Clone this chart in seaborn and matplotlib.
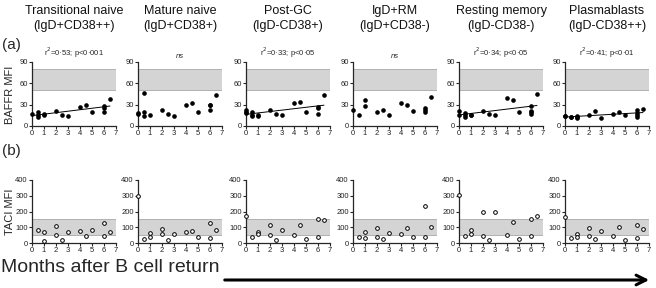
import numpy as np
import pandas as pd
import matplotlib
matplotlib.use('Agg')
import matplotlib.pyplot as plt
import seaborn as sns

sns.set_style('ticks')
plt.rcParams['font.family'] = ['Liberation Sans', 'DejaVu Sans']

# Panel titles and stats text
titles = ['Transitional naive\n(IgD+CD38++)', 'Mature naive\n(IgD+CD38+)', 'Post-GC\n(IgD-CD38+)',
          'IgD+RM\n(IgD+CD38-)', 'Resting memory\n(IgD-CD38-)', 'Plasmablasts\n(IgD-CD38++)']
stats = ['r$^2$=0·53; p<0·001', 'ns', 'r$^2$=0·33; p<0·05', 'ns', 'r$^2$=0·34; p<0·05', 'r$^2$=0·41; p<0·01']
significant = [True, False, True, False, True, True]

# BAFFR MFI (row a)
baffr_x = [
    [0, 0.5, 0.5, 0.5, 1, 1, 2, 2.5, 3, 4, 4.5, 5, 6, 6, 6, 6.5],
    [0, 0, 0.5, 0.5, 0.5, 1, 2, 2.5, 3, 4, 4.5, 5, 6, 6, 6, 6.5],
    [0, 0, 0, 0.5, 0.5, 0.5, 1, 1, 2, 2.5, 3, 4, 4.5, 5, 6, 6, 6, 6.5],
    [0, 0.5, 1, 1, 2, 2.5, 3, 4, 4.5, 5, 6, 6, 6, 6.5],
    [0, 0, 0.5, 0.5, 0.5, 1, 1, 2, 2.5, 3, 4, 4.5, 5, 6, 6, 6, 6, 6.5],
    [0, 0, 0.5, 0.5, 1, 1, 1, 2, 2.5, 3, 4, 4.5, 5, 6, 6, 6, 6, 6.5],
]
baffr_y = [
    [17, 13, 16, 19, 16, 17, 21, 16, 14, 27, 29, 19, 20, 25, 28, 38],
    [18, 17, 47, 20, 14, 16, 22, 17, 14, 29, 33, 20, 22, 29, 30, 44],
    [22, 20, 18, 19, 16, 14, 16, 14, 22, 17, 15, 33, 34, 19, 17, 25, 27, 44],
    [22, 15, 37, 28, 19, 22, 15, 33, 30, 21, 20, 23, 25, 41],
    [21, 16, 18, 15, 13, 16, 15, 21, 17, 15, 40, 36, 20, 17, 19, 21, 28, 45],
    [14, 14, 13, 12, 14, 12, 11, 15, 21, 11, 17, 19, 16, 13, 15, 18, 22, 24],
]

# TACI MFI (row b)
taci_x = [
    [0.5, 1, 1, 2, 2, 2.5, 3, 4, 4.5, 5, 6, 6, 6.5],
    [0, 0.5, 1, 1, 2, 2, 2.5, 3, 4, 4.5, 5, 6, 6, 6.5],
    [0, 0.5, 1, 1, 2, 2, 2.5, 3, 4, 4.5, 5, 6, 6, 6.5],
    [0.5, 1, 1, 2, 2, 2.5, 3, 4, 4.5, 5, 6, 6, 6.5],
    [0, 0.5, 1, 1, 2, 2, 2.5, 3, 4, 4.5, 5, 6, 6, 6.5],
    [0, 0.5, 1, 1, 2, 2, 2.5, 3, 4, 4.5, 5, 6, 6, 6.5],
]
taci_y = [
    [80, 70, 10, 110, 50, 20, 70, 75, 45, 80, 130, 45, 70],
    [300, 25, 65, 35, 90, 55, 20, 60, 70, 75, 40, 130, 30, 85],
    [170, 35, 70, 55, 115, 50, 20, 85, 50, 115, 25, 155, 40, 145],
    [35, 70, 30, 95, 40, 25, 65, 55, 95, 35, 235, 40, 100],
    [305, 45, 80, 55, 195, 45, 20, 195, 50, 135, 25, 155, 45, 170],
    [165, 30, 55, 40, 95, 45, 25, 75, 45, 100, 20, 115, 30, 90],
]

# normal ranges (grey bands)
baffr_band = (50, 80)
taci_band = (50, 150)

fig = plt.figure(figsize=(6.56, 2.88), dpi=100)
W, H = 656, 288
lefts = [32, 138, 246, 353, 459, 565]


def make_ax(left, top, bottom, width=84):
    return fig.add_axes([left / W, 1 - bottom / H, width / W, (bottom - top) / H])


def style(ax, ymax, yticks):
    ax.set_xlim(0, 7)
    ax.set_ylim(0, ymax)
    ax.set_xticks(range(8))
    ax.set_yticks(yticks)
    ax.tick_params(labelsize=5.5, length=2, width=0.8, pad=1, labelcolor='#222222')
    for s in ['left', 'bottom']:
        ax.spines[s].set_linewidth(0.9)
    sns.despine(ax=ax)
    ax.set_xlabel('')
    ax.set_ylabel('')


for i in range(6):
    left = lefts[i]
    # row a
    ax = make_ax(left, 62, 126)
    ax.axhspan(*baffr_band, facecolor='#d4d4d4', edgecolor='#9a9a9a', lw=0.5, zorder=0)
    df = pd.DataFrame({'month': baffr_x[i], 'mfi': baffr_y[i]})
    sns.scatterplot(data=df, x='month', y='mfi', ax=ax, color='black', s=11, linewidth=0,
                    clip_on=False, zorder=3)
    if significant[i]:
        sns.regplot(data=df, x='month', y='mfi', ax=ax, scatter=False, ci=None,
                    line_kws={'color': 'black', 'lw': 0.7})
    style(ax, 90, [0, 30, 60, 90])
    ax.text(3.5, 93, stats[i], ha='center', va='bottom', fontsize=5.5,
            style='italic' if stats[i] == 'ns' else 'normal')

    # row b
    ax = make_ax(left, 180, 243)
    ax.axhspan(*taci_band, facecolor='#d4d4d4', edgecolor='#9a9a9a', lw=0.5, zorder=0)
    df = pd.DataFrame({'month': taci_x[i], 'mfi': taci_y[i]})
    sns.scatterplot(data=df, x='month', y='mfi', ax=ax, facecolor='white', edgecolor='black',
                    s=7, linewidth=0.7, clip_on=False, zorder=3)
    style(ax, 400, [0, 100, 200, 300, 400])

    fig.text((left + 42) / W, 1 - 18.5 / H, titles[i], ha='center', va='center',
             fontsize=9, linespacing=1.35, color='#111111')

fig.text(2 / W, 1 - 45 / H, '(a)', fontsize=11, va='center')
fig.text(2 / W, 1 - 151 / H, '(b)', fontsize=11, va='center')
fig.text(10 / W, 1 - 95 / H, 'BAFFR MFI', rotation=90, fontsize=8, ha='center', va='center')
fig.text(10 / W, 1 - 212 / H, 'TACI MFI', rotation=90, fontsize=8, ha='center', va='center')
fig.text(1 / W, 1 - 267 / H, 'Months after B cell return', fontsize=14, va='center')
fig.add_artist(matplotlib.patches.FancyArrowPatch((222 / W, 1 - 280 / H), (652 / W, 1 - 280 / H),
                                                  transform=fig.transFigure,
                                                  arrowstyle='->,head_length=7,head_width=3.5',
                                                  lw=2.2, color='black'))

fig.savefig('out.png', dpi=100)
